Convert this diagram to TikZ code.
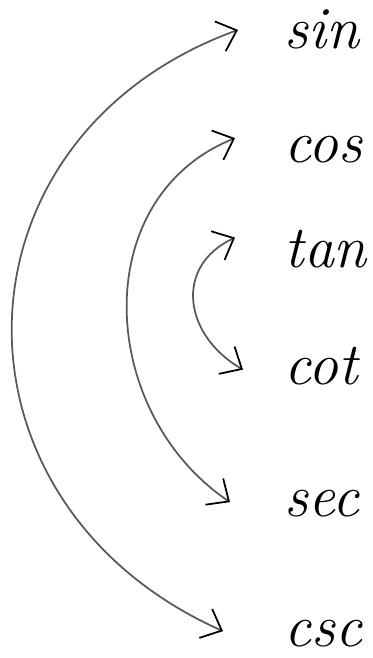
\documentclass[tikz,border=0pt]{standalone}
\usepackage{tikz}
\usetikzlibrary{arrows.meta,calc}

\begin{document}
\begin{tikzpicture}[
    fn/.style={anchor=base west, inner sep=0pt, font=\fontsize{17}{20}\selectfont\itshape},
    pair/.style={draw=gray!70!black, line width=0.5pt,
        {Straight Barb[length=5pt,width=9pt,black]}-{Straight Barb[length=5pt,width=9pt,black]}}
]
    \useasboundingbox (0,0) rectangle (3.73,6.58);

    \foreach \f/\y in {sin/6.09, cos/4.95, tan/3.90, cot/2.73, sec/1.41, csc/0.12} {
        \node[fn] (\f) at (2.84,\y) {\f};
    }

    % reciprocal pairs
    \draw[pair] ([xshift=-0.46cm,yshift=0.0cm]sin.west)
        .. controls +(200:3.14) and +(156:3.14) .. ([xshift=-0.61cm,yshift=0.02cm]csc.west);
    \draw[pair] ([xshift=-0.49cm,yshift=0.12cm]cos.west)
        .. controls +(202:1.6) and +(146:1.6) .. ([xshift=-0.54cm,yshift=0.02cm]sec.west);
    \draw[pair] ([xshift=-0.49cm,yshift=0.12cm]tan.west)
        .. controls +(205:0.68) and +(150:0.68) .. ([xshift=-0.41cm,yshift=-0.03cm]cot.west);
\end{tikzpicture}
\end{document}
